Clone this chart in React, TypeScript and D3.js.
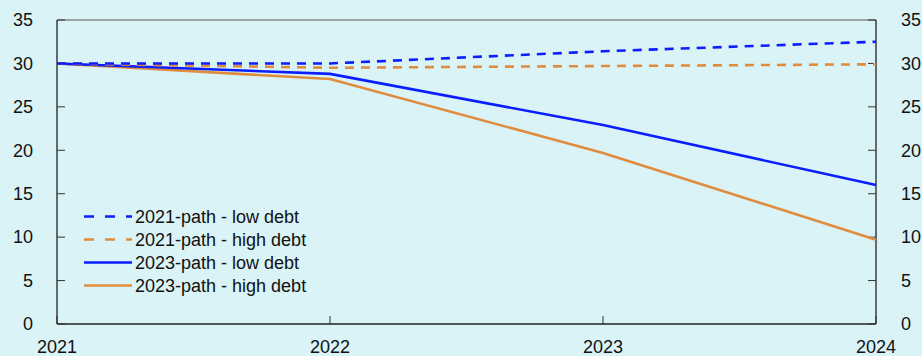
import React from "react";
import * as d3 from "d3";

const years = [2021, 2022, 2023, 2024];
const low2021 = [30, 30.0, 31.4, 32.5];
const high2021 = [30, 29.5, 29.7, 29.9];
const low2023 = [30, 28.8, 22.9, 16.0];
const high2023 = [30, 28.2, 19.7, 9.7];
const yTicks = [0, 5, 10, 15, 20, 25, 30, 35];
const seriesNames = ["2021-path - low debt", "2021-path - high debt", "2023-path - low debt", "2023-path - high debt"];

const W = 922, H = 356;
const L = 57, R = 876, T = 20, B = 324;
const BLUE = "#0a1eff";
const ORANGE = "#e08c3e";
const BG = "#daf3f7";
const FONT = "'Liberation Sans', Arial, Helvetica, sans-serif";

export default function App() {
  const x = d3.scaleLinear().domain([2021, 2024]).range([L, R]);
  const y = d3.scaleLinear().domain([0, 35]).range([B, T]);
  const line = d3.line<number>().x((_, i) => x(years[i])).y((d) => y(d));
  const series = [
    { name: seriesNames[0], data: low2021, color: BLUE, dash: "9,7" },
    { name: seriesNames[1], data: high2021, color: ORANGE, dash: "9,7" },
    { name: seriesNames[2], data: low2023, color: BLUE, dash: null },
    { name: seriesNames[3], data: high2023, color: ORANGE, dash: null },
  ];
  const drawOrder = [3, 2, 1, 0];
  return (
    <svg width={W} height={H} style={{ position: "absolute", left: 0, top: 0, display: "block" }}>
      <rect x={0} y={0} width={W} height={H} fill={BG} />
      {/* frame */}
      <line x1={L} x2={R} y1={T} y2={T} stroke="#555" strokeWidth={1} />
      <line x1={L} x2={L} y1={T} y2={B} stroke="#222" strokeWidth={1.3} />
      <line x1={R} x2={R} y1={T} y2={B} stroke="#222" strokeWidth={1.3} />
      <line x1={L} x2={R} y1={B} y2={B} stroke="#222" strokeWidth={1.3} />
      {yTicks.map((t) => (
        <g key={t}>
          <line x1={L} x2={L + 8} y1={y(t)} y2={y(t)} stroke="#333" />
          <line x1={R - 8} x2={R} y1={y(t)} y2={y(t)} stroke="#333" />
          <text x={33} y={y(t)} dy="0.35em" textAnchor="end" fontFamily={FONT} fontSize={18} fill="#111">{t}</text>
          <text x={901} y={y(t)} dy="0.35em" textAnchor="start" fontFamily={FONT} fontSize={18} fill="#111">{t}</text>
        </g>
      ))}
      {years.map((yr) => (
        <g key={yr}>
          <line x1={x(yr)} x2={x(yr)} y1={B} y2={B - 8} stroke="#333" />
          <text x={x(yr)} y={353} textAnchor="middle" fontFamily={FONT} fontSize={18} fill="#111">{yr}</text>
        </g>
      ))}
      {drawOrder.map((i) => {
        const s = series[i];
        return (
          <path key={s.name} d={line(s.data) || ""} fill="none" stroke={s.color} strokeWidth={2.6}
            strokeDasharray={s.dash || undefined} />
        );
      })}
      {series.map((s, i) => {
        const ly = 216.5 + i * 23;
        return (
          <g key={"leg" + i}>
            <line x1={84} x2={132} y1={ly} y2={ly} stroke={s.color} strokeWidth={2.6} strokeDasharray={s.dash ? "10,11" : undefined} />
            <text x={135} y={ly} dy="0.35em" fontFamily={FONT} fontSize={18} fill="#111">{s.name}</text>
          </g>
        );
      })}
    </svg>
  );
}
